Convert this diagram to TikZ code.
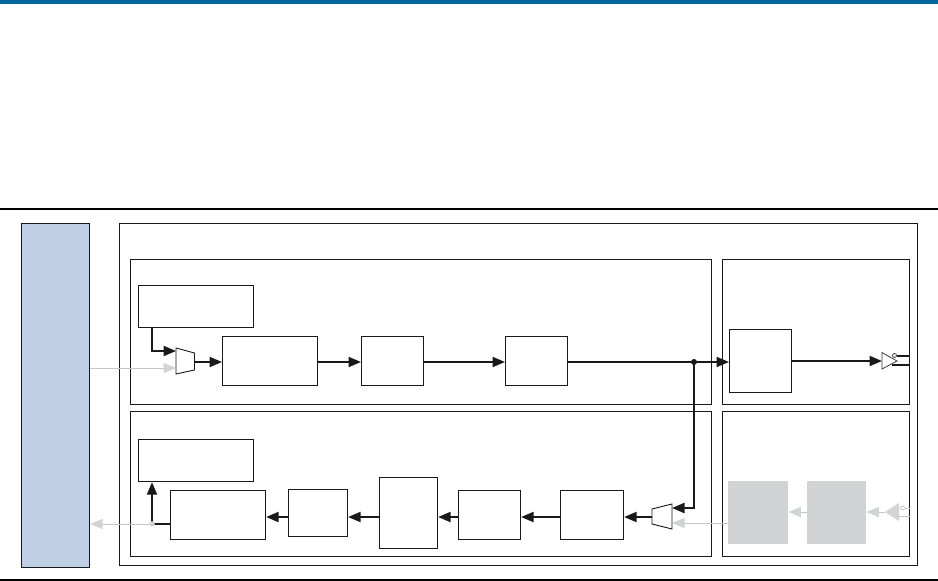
\documentclass[tikz,border=0pt]{standalone}
\usetikzlibrary{arrows.meta}
\definecolor{topblue}{HTML}{00669A}
\definecolor{boxblue}{HTML}{BFD0E6}
\definecolor{lgray}{HTML}{D1D3D4}
\definecolor{lline}{HTML}{C6C6C6}
\tikzset{
  blk/.style={draw=black!90, line width=1.1pt, fill=white, inner sep=0pt, anchor=north west},
  frame/.style={draw=black!90, line width=1.2pt, inner sep=0pt, anchor=north west},
  graybox/.style={fill=lgray, draw=none, inner sep=0pt, anchor=north west},
  conn/.style={draw=black!90, line width=2pt, -{Triangle[length=12.5pt,width=10pt]}},
  gconn/.style={draw=lline, line width=1pt, -{Triangle[length=12.5pt,width=10pt,color=lgray]}},
  muxshape/.style={draw=black!90, line width=0.9pt, fill=white},
}
\begin{document}
\begin{tikzpicture}[x=1pt,y=-1pt]
\useasboundingbox (0,0) rectangle (938,581);
% header rules
\fill[topblue] (0,0) rectangle (938,4);
\draw[line width=1.2pt] (0,209) -- (938,209);
\draw[line width=1.2pt] (0,580) -- (938,580);

% frames
\node[frame, fill=boxblue, minimum width=68pt, minimum height=344pt] (host) at (21,223) {};
\node[frame, minimum width=798pt, minimum height=342pt] (outer) at (119,223) {};
\node[frame, minimum width=581pt, minimum height=145pt] (txL) at (130,259) {};
\node[frame, minimum width=187pt, minimum height=145pt] (txR) at (722,259) {};
\node[frame, minimum width=581pt, minimum height=145pt] (rxL) at (130,411) {};
\node[frame, minimum width=187pt, minimum height=145pt] (rxR) at (722,411) {};

% TX blocks
\node[blk, minimum width=115pt, minimum height=42pt] (A) at (138,285) {};
\node[blk, minimum width=95pt, minimum height=49pt] (B) at (222,336) {};
\node[blk, minimum width=62pt, minimum height=49pt] (C) at (361,336) {};
\node[blk, minimum width=62pt, minimum height=49pt] (D) at (505,336) {};
\node[blk, minimum width=62pt, minimum height=63pt] (E) at (729,329) {};

% RX blocks
\node[blk, minimum width=115pt, minimum height=42pt] (L) at (138,439) {};
\node[blk, minimum width=95pt, minimum height=49pt] (K) at (170,490) {};
\node[blk, minimum width=59pt, minimum height=47pt] (J) at (288,489) {};
\node[blk, minimum width=58pt, minimum height=71pt] (I) at (379,477) {};
\node[blk, minimum width=62pt, minimum height=49pt] (H) at (458,490) {};
\node[blk, minimum width=63pt, minimum height=49pt] (G) at (560,490) {};
\node[graybox, minimum width=60pt, minimum height=63pt] (F) at (728,481) {};
\node[graybox, minimum width=59pt, minimum height=63pt] (M) at (807,481) {};

% mux 1
\draw[muxshape] (176,348) -- (194.5,353) -- (194.5,370) -- (176,374) -- cycle;
\coordinate (m1a) at (176,351);
\coordinate (m1b) at (176,368);
\coordinate (m1o) at (194.5,362);
% mux 2
\draw[muxshape] (652,509) -- (672,504) -- (672,529) -- (652,524) -- cycle;
\coordinate (m2a) at (672,508);
\coordinate (m2b) at (672,523);
\coordinate (m2o) at (652,517);

% TX connectors
\draw[conn] ([xshift=14pt]A.south west) |- (m1a);
\draw[gconn] (host.east |- m1b) -- (m1b);
\draw[conn] (m1o) -- (m1o -| B.west);
\draw[conn] (B.east |- m1o) -- (C.west |- m1o);
\draw[conn] (C.east |- m1o) -- (D.west |- m1o);
\coordinate (dot) at (694,362);
\draw[conn] (D.east |- m1o) -- (E.west |- m1o);
\fill[black!90] (dot) circle (3pt);
\coordinate (ob) at (882,361);
\draw[conn] (E.east |- ob) -- (ob);

% output buffer
\draw[draw=black!75, line width=0.8pt, fill=white] (882,352.5) -- (897,361) -- (882,369) -- cycle;
\draw[draw=black!75, line width=0.8pt, fill=white] (894.5,355.5) circle (2pt);
\draw[black!90, line width=1.6pt] (896.5,356) -- (txR.east |- 0,356);
\draw[black!90, line width=1.6pt] (892,365) -- (txR.east |- 0,365);

% loopback
\draw[conn] (dot) |- (m2a);
\draw[gconn] (F.west |- m2b) -- (m2b);
\draw[conn] (m2o) -- (G.east |- m2o);
\draw[conn] (G.west |- m2o) -- (H.east |- m2o);
\draw[conn] (H.west |- m2o) -- (I.east |- m2o);
\draw[conn] (I.west |- m2o) -- (J.east |- m2o);
\draw[conn] (J.west |- m2o) -- (K.east |- m2o);

% RX to host
\coordinate (kj) at (152,524);
\draw[gconn] (kj) -- (host.east |- kj);
\draw[conn] (K.west |- kj) -| ([xshift=14pt]L.south west);
\fill[lgray] (kj) circle (2.8pt);

% input buffer (gray)
\coordinate (ib) at (885,512);
\draw[gconn] (M.west |- ib) -- (F.east |- ib);
\draw[gconn] (ib) -- (M.east |- ib);
\fill[lgray] (899,503) -- (885,512) -- (899,521) -- cycle;
\draw[draw=lline, line width=0.8pt, fill=white] (902.5,508) circle (2pt);
\draw[lline, line width=1pt] (904.5,508) -- (rxR.east |- 0,508);
\draw[lline, line width=1pt] (899,516) -- (rxR.east |- 0,516);
\end{tikzpicture}
\end{document}
